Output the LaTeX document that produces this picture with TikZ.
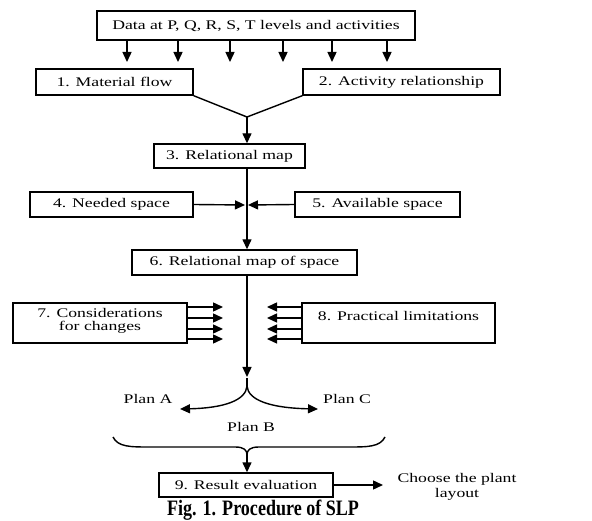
\documentclass[tikz,border=0pt]{standalone}
\usepackage{fontspec}
\setmainfont[FakeStretch=1.34]{Liberation Serif}
\newfontfamily\capfont[FakeStretch=0.82]{Liberation Serif}
\usetikzlibrary{arrows.meta,calc}
\begin{document}
\begin{tikzpicture}[x=1pt,y=-1pt,
  box/.style={draw,line width=1.4pt,inner sep=0pt,font=\fontsize{13.2}{14}\selectfont},
  lbl/.style={inner sep=0pt,font=\fontsize{13.2}{14}\selectfont},
  ln/.style={line width=1.4pt},
  arr/.style={line width=1.4pt,-{Triangle[length=10pt,width=9pt]}}]
\useasboundingbox (0,0) rectangle (592,521);
% boxes
\node[box,minimum width=318pt,minimum height=29pt] (top) at (256,25.5) {Data at P, Q, R, S, T levels and activities};
\node[box,minimum width=157pt,minimum height=26pt] (b1) at (114.5,82) {1. Material flow};
\node[box,minimum width=197pt,minimum height=26pt] (b2) at (401.5,82) {2. Activity relationship};
\node[box,minimum width=151pt,minimum height=24pt] (b3) at (229.5,156) {3. Relational map};
\node[box,minimum width=163pt,minimum height=25pt] (b4) at (111.5,204.5) {4. Needed space};
\node[box,minimum width=165pt,minimum height=25pt] (b5) at (377.5,204.5) {5. Available space};
\node[box,minimum width=225pt,minimum height=25pt] (b6) at (244.5,262.5) {6. Relational map of space};
\node[box,minimum width=174pt,minimum height=40pt] (b7) at (100,323) {};
\node[lbl,align=center] (t7) at (100,321) {7. Considerations\\[-1pt]for changes};
\node[box,minimum width=193pt,minimum height=40pt] (b8) at (398.5,323) {};
\node[lbl] (t8) at (398.5,316) {8. Practical limitations};
\node[box,minimum width=174pt,minimum height=24pt] (b9) at (246,485) {9. Result evaluation};
\node[lbl] (pa) at (148,399) {Plan A};
\node[lbl] (pc) at (347,399) {Plan C};
\node[lbl] (pb) at (251,427) {Plan B};
\node[lbl,align=center] (choose) at (457,486.5) {Choose the plant\\[1pt]layout};
\node[inner sep=0pt,font=\capfont\fontsize{22}{24}\selectfont\bfseries,anchor=base] (cap) at (263,515) {Fig. 1. Procedure of SLP};
% top arrows
\foreach \x in {127,178,230,283,332,387}{
  \draw[arr] (top.south -| \x,0) -- (\x,62);
}
% merge
\coordinate (j1) at (247,117);
\draw[ln] (b1.south east) -- (j1) -- (b2.south west);
\draw[arr] (j1) -- (j1 |- b3.north);
\draw[arr] (j1 |- b3.south) -- (j1 |- b6.north);
\coordinate (j2) at (247,205);
\draw[arr] (b4.east) -- ($(j2)+(-2,0)$);
\draw[arr] (b5.west) -- ($(j2)+(1,0)$);
% 7 and 8
\foreach \y in {307,318,329,339}{
  \draw[arr] (b7.east |- 0,\y) -- (223,\y);
  \draw[arr] (b8.west |- 0,\y) -- (267,\y);
}
% down to fork
\coordinate (f) at (247,386);
\draw[arr] (j1 |- b6.south) -- (247,377);
\draw[ln] (247,378) -- (f);
\draw[arr] (f) .. controls (246,400) and (225,408) .. (180,409);
\draw[arr] (f) .. controls (248,400) and (270,408) .. (318,409);
% brace
\coordinate (bt) at (247,455);
\draw[ln] (113,437) .. controls (118,447) and (130,447) .. (150,447) -- (235,447) .. controls (244,447) and (247,450) .. (bt);
\draw[ln] (385,437) .. controls (380,447) and (368,447) .. (348,447) -- (259,447) .. controls (250,447) and (247,450) .. (bt);
\draw[arr] (bt) -- (bt |- b9.north);
\draw[arr] (b9.east) -- (383,485);
\end{tikzpicture}
\end{document}
